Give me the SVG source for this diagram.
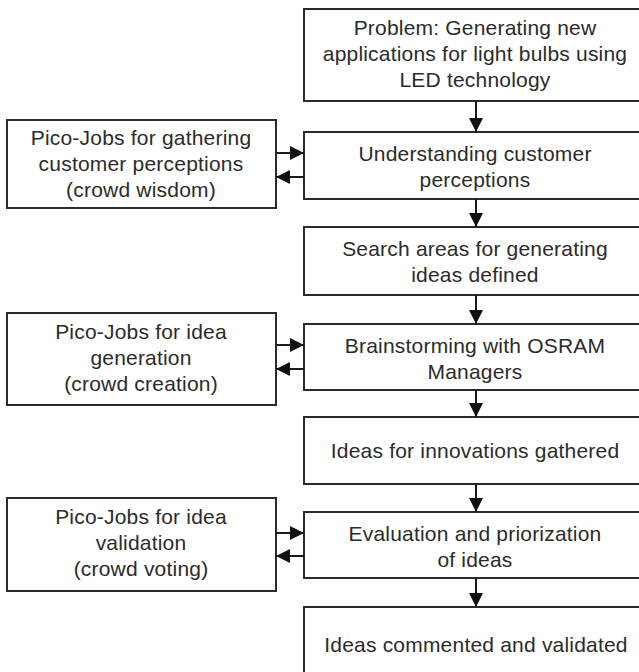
<svg xmlns="http://www.w3.org/2000/svg" width="639" height="672" viewBox="0 0 639 672">
  <style>
    .box { fill: #ffffff; stroke: #2b2b2b; stroke-width: 2; }
    .lbl { font-family: "Liberation Sans", Arial, sans-serif; font-size: 21px; letter-spacing: 0.2px; fill: #2b2b2b; text-anchor: middle; }
    .conn { stroke: #1a1a1a; stroke-width: 2; fill: none; }
  </style>
  <defs>
    <marker id="arrow" viewBox="0 0 14 14" refX="14" refY="7" markerWidth="14" markerHeight="14" markerUnits="userSpaceOnUse" orient="auto">
      <path d="M0,0 L14,7 L0,14 Z" fill="#111111"/>
    </marker>
  </defs>
  <rect width="639" height="672" fill="#ffffff"/>

  <!-- main process column -->
  <g id="problem">
    <rect class="box" x="304" y="9" width="360" height="92"/>
    <text class="lbl" x="475" y="35">Problem: Generating new</text>
    <text class="lbl" x="475" y="61">applications for light bulbs using</text>
    <text class="lbl" x="475" y="87">LED technology</text>
  </g>
  <g id="understanding">
    <rect class="box" x="304" y="132" width="360" height="67"/>
    <text class="lbl" x="475" y="161">Understanding customer</text>
    <text class="lbl" x="475" y="187">perceptions</text>
  </g>
  <g id="search-areas">
    <rect class="box" x="304" y="227" width="360" height="68"/>
    <text class="lbl" x="475" y="256">Search areas for generating</text>
    <text class="lbl" x="475" y="282">ideas defined</text>
  </g>
  <g id="brainstorming">
    <rect class="box" x="304" y="324" width="360" height="66"/>
    <text class="lbl" x="475" y="353">Brainstorming with OSRAM</text>
    <text class="lbl" x="475" y="379">Managers</text>
  </g>
  <g id="ideas-gathered">
    <rect class="box" x="304" y="417" width="360" height="67"/>
    <text class="lbl" x="475" y="458">Ideas for innovations gathered</text>
  </g>
  <g id="evaluation">
    <rect class="box" x="304" y="512" width="360" height="66"/>
    <text class="lbl" x="475" y="541">Evaluation and priorization</text>
    <text class="lbl" x="475" y="567">of ideas</text>
  </g>
  <g id="ideas-validated">
    <rect class="box" x="304" y="607" width="360" height="90"/>
    <text class="lbl" x="476" y="652">Ideas commented and validated</text>
  </g>

  <!-- crowd side tasks -->
  <g id="pico-wisdom">
    <rect class="box" x="7" y="120" width="269" height="88"/>
    <text class="lbl" x="141" y="145">Pico-Jobs for gathering</text>
    <text class="lbl" x="141" y="171">customer perceptions</text>
    <text class="lbl" x="141" y="197">(crowd wisdom)</text>
  </g>
  <g id="pico-creation">
    <rect class="box" x="7" y="313" width="269" height="92"/>
    <text class="lbl" x="141" y="339">Pico-Jobs for idea</text>
    <text class="lbl" x="141" y="365">generation</text>
    <text class="lbl" x="141" y="391">(crowd creation)</text>
  </g>
  <g id="pico-voting">
    <rect class="box" x="7" y="498" width="269" height="93"/>
    <text class="lbl" x="141" y="524">Pico-Jobs for idea</text>
    <text class="lbl" x="141" y="550">validation</text>
    <text class="lbl" x="141" y="576">(crowd voting)</text>
  </g>

  <g id="connectors">
    <line class="conn" x1="476" y1="101" x2="476" y2="132" marker-end="url(#arrow)"/>
    <line class="conn" x1="476" y1="199" x2="476" y2="227" marker-end="url(#arrow)"/>
    <line class="conn" x1="476" y1="295" x2="476" y2="324" marker-end="url(#arrow)"/>
    <line class="conn" x1="476" y1="390" x2="476" y2="417" marker-end="url(#arrow)"/>
    <line class="conn" x1="476" y1="484" x2="476" y2="512" marker-end="url(#arrow)"/>
    <line class="conn" x1="476" y1="578" x2="476" y2="607" marker-end="url(#arrow)"/>

    <line class="conn" x1="276" y1="153" x2="304" y2="153" marker-end="url(#arrow)"/>
    <line class="conn" x1="304" y1="177" x2="276" y2="177" marker-end="url(#arrow)"/>
    <line class="conn" x1="276" y1="345" x2="304" y2="345" marker-end="url(#arrow)"/>
    <line class="conn" x1="304" y1="369" x2="276" y2="369" marker-end="url(#arrow)"/>
    <line class="conn" x1="276" y1="533" x2="304" y2="533" marker-end="url(#arrow)"/>
    <line class="conn" x1="304" y1="556" x2="276" y2="556" marker-end="url(#arrow)"/>
  </g>
</svg>
